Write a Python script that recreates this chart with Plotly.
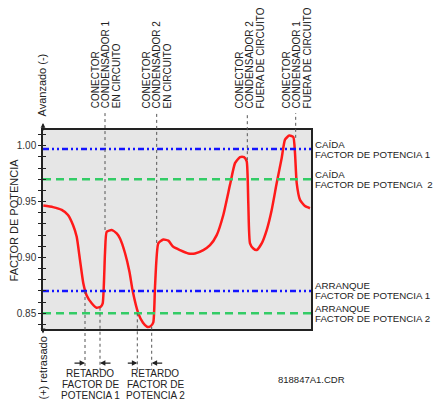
import plotly.graph_objects as go

# ---------------- data ----------------
# time (arbitrary units) and power factor of the measured curve
t_curve = [0.3, 10, 18.7, 25, 30, 33.7, 37, 40.3, 43.7, 48.7, 53.7, 57.7, 59.7,
           62, 63.7, 68.7, 73.7, 77, 82, 86.5, 89.7, 95.3, 100, 104, 107.5, 110.3,
           112, 115.3, 120.3, 125.3, 130.3, 137, 145.3, 152, 160.3, 167, 173.7,
           180.3, 187, 192, 197, 201, 203.7, 205.3, 207, 210.3, 213.7, 218.7,
           223.7, 228.7, 233.7, 238.7, 242, 246.3, 250.3, 252, 253.7, 257, 262, 267]
pf_curve = [0.9464, 0.945, 0.9425, 0.938, 0.929, 0.9185, 0.8976, 0.877, 0.866,
            0.859, 0.855, 0.856, 0.859, 0.904, 0.923, 0.9245, 0.9215, 0.917,
            0.904, 0.887, 0.870, 0.850, 0.8415, 0.8380, 0.8385, 0.8420, 0.8736,
            0.9126, 0.916, 0.915, 0.9095, 0.9066, 0.9036, 0.9036, 0.9066, 0.911,
            0.92, 0.938, 0.965, 0.9844, 0.9898, 0.9898, 0.986, 0.9485, 0.9126,
            0.908, 0.9066, 0.9126, 0.9245, 0.9425, 0.9665, 0.989, 1.0054, 1.009,
            1.0078, 0.9934, 0.9665, 0.9515, 0.946, 0.944]

# thresholds
drop_pf1 = 0.997
drop_pf2 = 0.970
pickup_pf1 = 0.870
pickup_pf2 = 0.850

# capacitor switching events (time, curve value at event)
event_t = [62, 113.7, 204.3, 252.7]
event_pf = [0.9245, 0.913, 0.987, 1.007]
event_labels = [
    ["CONECTOR", "CONDENSADOR 1", "EN CIRCUITO"],
    ["CONECTOR", "CONDENSADOR 2", "EN CIRCUITO"],
    ["CONECTOR", "CONDENSADOR 2", "FUERA DE CIRCUITO"],
    ["CONECTOR", "CONDENSADOR 1", "FUERA DE CIRCUITO"],
]

# time delay markers (time, curve value)
delay_t = [42, 57, 94.3, 108.7]
delay_pf = [0.870, 0.855, 0.850, 0.838]
delay_label_t = [47, 112.3]
delay_labels = [["RETARDO", "FACTOR DE", "POTENCIA 1"],
                ["RETARDO", "FACTOR DE", "POTENCIA 2"]]

y_ticks = [0.85, 0.90, 0.95, 1.00]
threshold_labels = [
    (drop_pf1, "CAÍDA", "FACTOR DE POTENCIA 1"),
    (drop_pf2, "CAÍDA", "FACTOR DE POTENCIA \u00a02"),
    (pickup_pf1, "ARRANQUE", "FACTOR DE POTENCIA 1"),
    (pickup_pf2, "ARRANQUE", "FACTOR DE POTENCIA 2"),
]

# ---------------- figure ----------------
XR = [0, 268]
YR = [0.836, 1.014]
FONT = "Liberation Sans, Arial, sans-serif"
TXT = "#222222"


def yp(v):
    return (v - YR[0]) / (YR[1] - YR[0])


fig = go.Figure()

blue_dash = "6px,3px,2px,3px,2px,3px"
green_dash = "8px,5px"
for val, col, dash in [(drop_pf1, "#1414ff", blue_dash), (pickup_pf1, "#1414ff", blue_dash),
                       (drop_pf2, "#33cc66", green_dash), (pickup_pf2, "#33cc66", green_dash)]:
    fig.add_trace(go.Scatter(x=XR, y=[val, val], mode="lines", yaxis="y2",
                             line=dict(color=col, width=2.5, dash=dash),
                             showlegend=False, hoverinfo="skip"))

fig.add_trace(go.Scatter(x=t_curve, y=pf_curve, mode="lines",
                         line=dict(color="#ff1a1a", width=2.5, shape="spline", smoothing=0.5),
                         showlegend=False, hoverinfo="skip"))

shapes = []
annotations = []

# event dotted lines and rotated labels
label_shift = [0.5, 0, 2.5, 1]
for t, v, lines, sh in zip(event_t, event_pf, event_labels, label_shift):
    shapes.append(dict(type="line", xref="x", yref="paper", x0=t, x1=t,
                       y0=yp(v), y1=1.085, line=dict(color="#555555", width=1, dash="dot")))
    for i, s in enumerate(lines):
        annotations.append(dict(x=t, y=1.097, xref="x", yref="paper", text=s,
                                textangle=-90, showarrow=False, xanchor="center",
                                yanchor="bottom", xshift=(i - 1) * 10.5 + sh,
                                font=dict(family=FONT, size=10, color=TXT)))

# delay dotted lines and arrows
arrow_dx = [-12, 12, -11, 12]
for t, v, dx in zip(delay_t, delay_pf, arrow_dx):
    shapes.append(dict(type="line", xref="x", yref="paper", x0=t, x1=t,
                       y0=yp(v), y1=-0.206, line=dict(color="#555555", width=1, dash="dot")))
    annotations.append(dict(x=t, y=-0.171, xref="x", yref="paper", text="",
                            showarrow=True, ax=dx, ay=0, axref="pixel", ayref="pixel",
                            arrowhead=2, arrowsize=0.9, arrowwidth=1.2, arrowcolor="#222222",
                            standoff=0))

# delay labels
for tc, lines in zip(delay_label_t, delay_labels):
    for i, s in enumerate(lines):
        annotations.append(dict(x=tc, y=-0.224 - i * 0.0555, xref="x", yref="paper", text=s,
                                showarrow=False, xanchor="center", yanchor="middle",
                                font=dict(family=FONT, size=10, color=TXT)))

# threshold labels on the right
for val, l1, l2 in threshold_labels:
    for s, dy in [(l1, 5), (l2, -5)]:
        annotations.append(dict(x=1, y=val, xref="paper", yref="y", text=s,
                                showarrow=False, xanchor="left", yanchor="middle",
                                xshift=2, yshift=dy,
                                font=dict(family=FONT, size=9.7, color=TXT)))

# y axis title
annotations.append(dict(x=-0.11, y=0.548, xref="paper", yref="paper",
                        text="FACTOR DE POTENCIA", textangle=-90, showarrow=False,
                        xanchor="center", yanchor="middle",
                        font=dict(family=FONT, size=11, color=TXT)))
# axis direction arrows and texts
annotations.append(dict(x=0, y=1.035, xref="paper", yref="paper", text="",
                        showarrow=True, ax=0, ay=9, arrowhead=2, arrowsize=0.8,
                        arrowwidth=1.2, arrowcolor="#222222", standoff=0))
annotations.append(dict(x=0, y=-0.022, xref="paper", yref="paper", text="",
                        showarrow=True, ax=0, ay=-6, arrowhead=2, arrowsize=0.8,
                        arrowwidth=1.2, arrowcolor="#222222", standoff=0))
annotations.append(dict(x=-0.004, y=1.06, xref="paper", yref="paper",
                        text="Avanzado (-)", textangle=-90, showarrow=False,
                        xanchor="center", yanchor="bottom",
                        font=dict(family=FONT, size=11, color=TXT)))
annotations.append(dict(x=0, y=-0.03, xref="paper", yref="paper",
                        text="(+) retrasado", textangle=-90, showarrow=False,
                        xanchor="center", yanchor="top",
                        font=dict(family=FONT, size=11, color=TXT)))
annotations.append(dict(x=0.869, y=-0.253, xref="paper", yref="paper",
                        text="818847A1.CDR", showarrow=False,
                        xanchor="left", yanchor="middle",
                        font=dict(family=FONT, size=9.5, color=TXT)))

fig.update_layout(
    width=433, height=401,
    margin=dict(l=43, r=122, t=130, b=72),
    paper_bgcolor="white", plot_bgcolor="#e6e6e6",
    font=dict(family=FONT, size=10, color=TXT),
    hovermode=False,
    xaxis=dict(range=XR, showgrid=False, zeroline=False, showticklabels=False,
               ticks="", showline=True, mirror=True, linecolor="#222222", linewidth=1.5),
    yaxis=dict(range=YR, showgrid=False, zeroline=False, tickvals=y_ticks,
               tickformat=".2f", ticks="outside", ticklen=3, tickwidth=1,
               tickcolor="#222222",
               minor=dict(dtick=0.01, tick0=0.85, ticks="outside", ticklen=3,
                          tickwidth=1, tickcolor="#222222", showgrid=False),
               showline=True, mirror=True, linecolor="#222222", linewidth=1.5,
               tickfont=dict(family=FONT, size=10, color="#333333")),
    yaxis2=dict(range=YR, overlaying="y", side="left", anchor="x",
                showgrid=False, zeroline=False, showticklabels=False,
                tickvals=y_ticks, ticks="inside", ticklen=3, tickwidth=1,
                tickcolor="#222222",
                minor=dict(dtick=0.01, tick0=0.85, ticks="inside", ticklen=3,
                           tickwidth=1, tickcolor="#222222", showgrid=False),
                showline=False),
    shapes=shapes,
    annotations=annotations,
    showlegend=False,
)

fig.write_html("out.html", config={"displayModeBar": False},
               post_script="document.body.style.margin='0';document.body.style.overflow='hidden';")
